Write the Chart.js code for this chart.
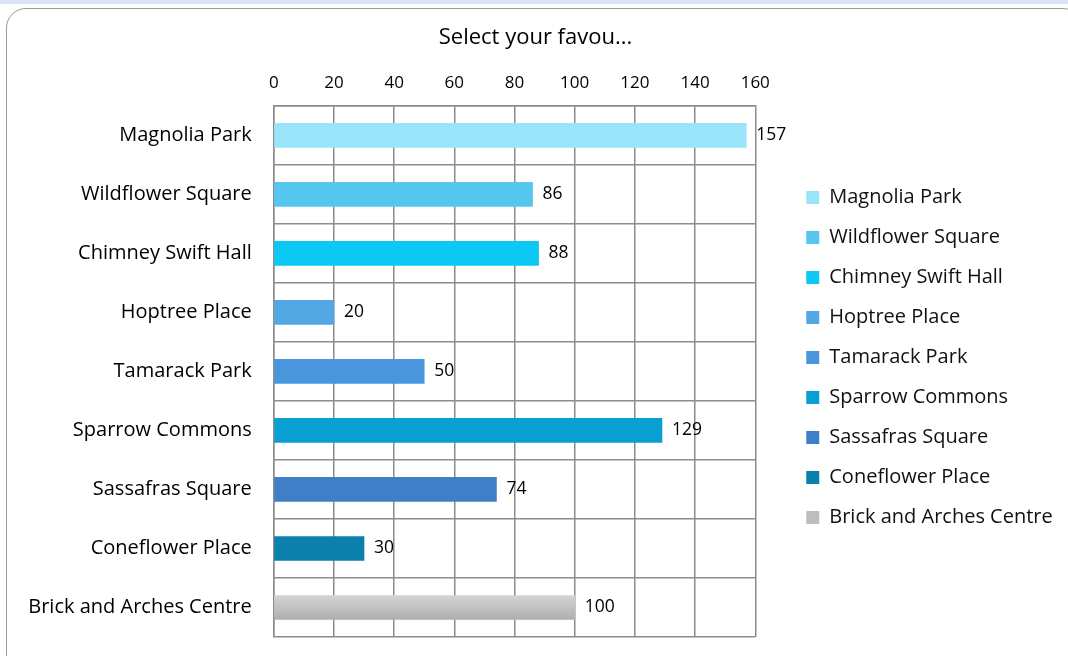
<!DOCTYPE html>
<html>
<head>
<meta charset="utf-8">
<script src="https://cdn.jsdelivr.net/npm/chart.js@4.4.1/dist/chart.umd.min.js"></script>
<style>
  html, body { margin: 0; padding: 0; background: #fff; overflow: hidden; }
  #strip { position: absolute; left: 0; top: 0; width: 1068px; height: 4px; background: #dde3f5; }
  #card { position: absolute; left: 6px; top: 8px; width: 1075px; height: 670px;
          border: 1px solid #9a9a9a; border-radius: 20px; background: #fff; }
  #chart { position: absolute; left: 0; top: 0; }
</style>
</head>
<body>
<div id="strip"></div>
<div id="card"><canvas id="chart" width="1062" height="662"></canvas></div>
<script>
var places = ["Magnolia Park", "Wildflower Square", "Chimney Swift Hall", "Hoptree Place",
              "Tamarack Park", "Sparrow Commons", "Sassafras Square", "Coneflower Place",
              "Brick and Arches Centre"];
var votes = [157, 86, 88, 20, 50, 129, 74, 30, 100];
var barColors = ["#99e4fb", "#55c6ed", "#0bc8f5", "#52a8e3", "#4a96dd",
                 "#0a9fd1", "#3f7fc7", "#0a80aa", "#bdbdbd"];
var xTicks = [0, 20, 40, 60, 80, 100, 120, 140, 160];

const FONT = "'Open Sans', 'Noto Sans', sans-serif";
const LEGEND_ROOM = 42;   // extra width taken by the legend box
const LEGEND_GAP = 31;    // how far the legend items are pushed right inside it

function barFill(context) {
    let i = context.dataIndex;
    let chart = context.chart;
    if (i != 8 || !chart.chartArea || !chart.scales.y) { return barColors[i]; }
    let y = chart.scales.y.getPixelForValue(i);
    let g = chart.ctx.createLinearGradient(0, y - 12, 0, y + 12);
    g.addColorStop(0, "#d4d4d4");
    g.addColorStop(1, "#afafaf");
    return g;
}

// writes the value next to the end of each bar
var valueLabels = {
    id: "valueLabels",
    afterDatasetsDraw(chart) {
        let ctx = chart.ctx;
        let meta = chart.getDatasetMeta(0);
        ctx.save();
        ctx.font = "17.5px " + FONT;
        ctx.fillStyle = "#000";
        ctx.textAlign = "left";
        ctx.textBaseline = "middle";
        meta.data.forEach((bar, i) => {
            ctx.fillText(String(votes[i]), bar.x + 10, bar.y);
        });
        ctx.restore();
    }
};

// leaves some empty room between the plot and the legend
var legendGap = {
    id: "legendGap",
    beforeLayout(chart) {
        let lg = chart.legend;
        if (lg && !lg._gapPatched) {
            let fit = lg.fit;
            lg.fit = function() { fit.call(this); this.width += LEGEND_ROOM; };
            lg._gapPatched = true;
        }
    },
    afterLayout(chart) {
        if (chart.legend) { chart.legend.left += LEGEND_GAP; }
    }
};

new Chart(document.getElementById("chart"), {
    type: "bar",
    data: {
        labels: places,
        datasets: [{
            label: "Votes",
            data: votes,
            backgroundColor: barFill,
            barThickness: 24,
        }],
    },
    options: {
        indexAxis: "y",
        responsive: false,
        devicePixelRatio: 1,
        animation: false,
        layout: { autoPadding: false, padding: { left: 5, right: 10, bottom: 21, top: 0 } },
        plugins: {
            title: {
                display: true,
                text: "Select your favou...",
                color: "#000",
                font: { family: FONT, size: 22, weight: "normal" },
                padding: { top: 16, bottom: 10 },
            },
            legend: {
                position: "right",
                title: { display: true, text: " ", padding: { top: 32, bottom: 0 }, font: { size: 20 } },
                labels: {
                    color: "#111",
                    font: { family: FONT, size: 20 },
                    boxWidth: 13,
                    boxHeight: 13,
                    padding: 20,
                    generateLabels(chart) {
                        return places.map((p, i) => ({
                            text: p,
                            fillStyle: barColors[i],
                            strokeStyle: barColors[i],
                            fontColor: "#111",
                            lineWidth: 0,
                            index: i,
                        }));
                    },
                },
                onClick() {},
            },
            tooltip: { enabled: false },
        },
        scales: {
            x: {
                position: "top",
                min: 0,
                max: 160,
                afterBuildTicks(axis) {
                    axis.ticks = xTicks.map((v) => ({ value: v }));
                },
                ticks: { color: "#000", font: { family: FONT, size: 17 }, padding: 12 },
                grid: { color: "#8c8c8c", lineWidth: 1.5, drawTicks: false },
                border: { color: "#8c8c8c", width: 1.5 },
            },
            y: {
                ticks: { color: "#000", font: { family: FONT, size: 20 }, padding: 22 },
                grid: { color: "#8c8c8c", lineWidth: 1.5, offset: true, drawTicks: false },
                border: { color: "#8c8c8c", width: 1.5 },
            },
        },
    },
    plugins: [valueLabels, legendGap],
});
</script>
</body>
</html>
